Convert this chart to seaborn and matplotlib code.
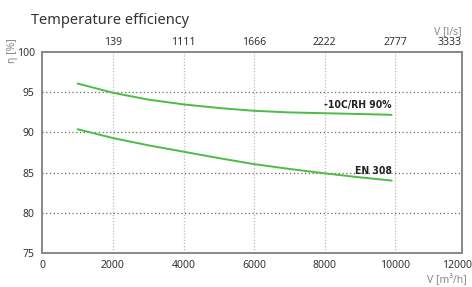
import matplotlib
matplotlib.use("Agg")
import matplotlib.pyplot as plt
import matplotlib.transforms as mtransforms
import seaborn as sns
import pandas as pd

# data
airflow_m3h = [1000, 2000, 3000, 4000, 5000, 6000, 7000, 8000, 9000, 9900]
eff_cold = [96.1, 94.95, 94.1, 93.5, 93.05, 92.7, 92.5, 92.4, 92.3, 92.2]
eff_en308 = [90.4, 89.3, 88.4, 87.6, 86.8, 86.05, 85.45, 84.9, 84.4, 84.0]
series_names = ["-10C/RH 90%", "EN 308"]
x_ticks = [0, 2000, 4000, 6000, 8000, 10000, 12000]
x_tick_labels = ["0", "2000", "4000", "6000", "8000", "10000", "12000"]
top_tick_labels = ["139", "1111", "1666", "2222", "2777", "3333"]
y_ticks = [75, 80, 85, 90, 95, 100]

sns.set_theme(style="white")
plt.rcParams["font.family"] = ["Noto Sans", "DejaVu Sans"]

df = pd.DataFrame({
    "V": airflow_m3h * 2,
    "eta": eff_cold + eff_en308,
    "series": [series_names[0]] * len(airflow_m3h) + [series_names[1]] * len(airflow_m3h),
})

fig = plt.figure(figsize=(4.72, 2.87), dpi=100)
ax = fig.add_axes([0.0898, 0.1195, 0.888, 0.6983])
green = "#4cbb47"
sns.lineplot(data=df, x="V", y="eta", hue="series", palette=[green, green],
             legend=False, ax=ax, linewidth=1.4)

xmax = 11880
ax.set_xlim(0, xmax)
ax.set_ylim(75, 100)
xt = x_ticks[:-1] + [xmax]
ax.set_xticks(xt)
ax.set_xticklabels(x_tick_labels, fontsize=7.5, color="#333333")
ax.set_yticks(y_ticks)
ax.set_yticklabels([str(v) for v in y_ticks], fontsize=7.5, color="#333333")
ax.tick_params(axis="both", length=2.5, width=0.8, color="#888888", pad=3)
ax.tick_params(axis="x", length=0, pad=5)
ax.set_xlabel("")
ax.set_ylabel("")
shift = mtransforms.ScaledTranslation(-5 / 100, 0, fig.dpi_scale_trans)
last = ax.get_xticklabels()[-1]
last.set_transform(last.get_transform() + shift)

for v in y_ticks[1:-1]:
    ax.axhline(v, color="#666666", linestyle=(0, (1, 2)), linewidth=0.9, zorder=0)
for v in x_ticks[1:-1]:
    ax.axvline(v, color="#bbbbbb", linestyle=(0, (1, 1.5)), linewidth=0.9, zorder=0)

for s in ax.spines.values():
    s.set_color("#888888")
    s.set_linewidth(1.4)

top = ax.secondary_xaxis("top")
top.set_xticks(xt[1:])
top.set_xticklabels(top_tick_labels, fontsize=7.5, color="#333333")
top.tick_params(length=0, pad=3)
top.spines["top"].set_visible(False)
for lbl in top.get_xticklabels()[-1:]:
    lbl.set_ha("right")

label_font = dict(family=["DejaVu Sans"], fontstretch="condensed", fontweight="bold",
                  fontsize=7.5, color="#222222")
ax.text(airflow_m3h[-1], eff_cold[-1] + 0.6, series_names[0], ha="right", va="bottom", **label_font)
ax.text(airflow_m3h[-1], eff_en308[-1] + 0.6, series_names[1], ha="right", va="bottom", **label_font)

fig.text(31 / 472, 1 - 20 / 287, "Temperature efficiency", fontsize=10.5, color="#333333",
         ha="left", va="center")
fig.text(12 / 472, 1 - 51 / 287, "η [%]", rotation=90, fontsize=7.5, color="#888888",
         ha="center", va="center")
fig.text(462 / 472, 1 - 32 / 287, "V [l/s]", fontsize=7.5, color="#888888",
         ha="right", va="center")
fig.text(467 / 472, 1 - 280 / 287, "V [m³/h]", fontsize=7.5, color="#888888",
         ha="right", va="center")

fig.savefig("out.png", dpi=100)
